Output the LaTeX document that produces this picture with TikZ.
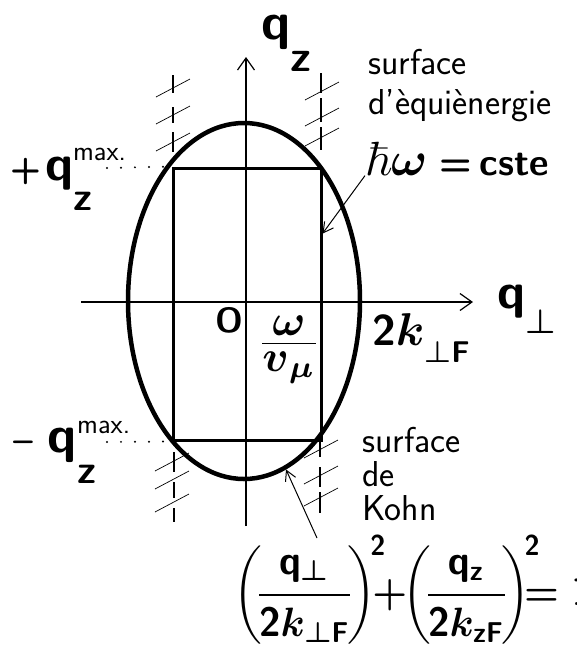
\documentclass[tikz,border=0pt]{standalone}
\usepackage{amsmath,amssymb}
\usepackage{tikz}
\usetikzlibrary{arrows.meta}
\usetikzlibrary{shapes.geometric}

\newcommand{\hmath}[3]{\scalebox{#1}[#2]{\fontsize{10}{12}\selectfont\boldmath$#3$}}

\begin{document}
\begin{tikzpicture}[x=1pt,y=-1pt,
  axis/.style={line width=1.2pt,-{Straight Barb[length=12pt,width=17pt]}},
  note/.style={line width=1pt,-{Straight Barb[length=10pt,width=11pt]}},
  hatch/.style={line width=2.6pt},
  slash/.style={line width=0.7pt},
  guide/.style={line width=2.2pt,line cap=round,dash pattern=on 0pt off 14pt},
  lbl/.style={inner sep=0pt,font=\sffamily\bfseries\fontsize{#1}{#1}\selectfont},
  hand/.style={inner sep=0pt,align=left,font=\sffamily\fontsize{36}{#1}\selectfont}]

\useasboundingbox (0,0) rectangle (577,649);

\node[draw,line width=4.5pt,ellipse,minimum width=232pt,minimum height=356pt] (fermi) at (244,301) {};
\node[draw,line width=3pt,minimum width=148pt,minimum height=272pt] (box) at (247,304) {};

\draw[axis] (81,302) -- (473,302);
\draw[axis] (246,526) -- (246,57);

\foreach \x/\a/\b in {173/75/93,173/107/123,173/132/152,321/73/93,321/98/122,321/127/150,
  174/452/472,174/482/498,174/508/522,320/440/457,320/467/487,320/492/513}
  \draw[hatch] (\x,\a) -- (\x,\b);
\foreach \x/\y in {173/88,173/115,173/142,322/91,322/117,322/137,
  172/462,172/480,172/503,321/449,321/475,321/497}
  \draw[slash] (\x-17,\y+9) -- (\x+17,\y-9);

\node[lbl=52,anchor=base west] (qzlab) at (261,39) {q\raisebox{-32pt}{\fontsize{44}{44}\selectfont z}};
\node[lbl=50,anchor=base west] (qplab) at (497,308) {q\raisebox{-25pt}{\hmath{3.4}{3.4}{\perp}}};
\node[lbl=35] (olab) at (229.5,320) {O};
\node[lbl=42] (wv) at (289,350) {\hmath{4.4}{4.4}{\textstyle\frac{\displaystyle\boldsymbol{\omega}}{\displaystyle\boldsymbol{v}_{\mu}}}};
\node[lbl=43,anchor=base west] (klab) at (372,345) {2\hmath{4.6}{4.6}{k}\raisebox{-17pt}{\hmath{3}{3}{\perp}\fontsize{30}{30}\selectfont F}};

\node[lbl=50,anchor=base west] (qmaxp) at (10,180) {{\fontsize{36}{36}\selectfont +}\hspace{4pt}q\rlap{\raisebox{20pt}{\mdseries\fontsize{28}{28}\selectfont max.}}\raisebox{-30pt}{\fontsize{40}{40}\selectfont z}};
\node[lbl=52,anchor=base west] (qmaxm) at (13,452) {{\fontsize{36}{36}\selectfont\textendash}\hspace{15pt}q\rlap{\raisebox{19pt}{\mdseries\fontsize{28}{28}\selectfont max.}}\raisebox{-31pt}{\fontsize{40}{40}\selectfont z}};
\coordinate (gp) at (107,168);
\coordinate (gm) at (107,442);
\draw[guide] (gp) -- (box.north west);
\draw[guide] (gm) -- (box.south west);

\node[hand=40,anchor=north west] (equi) at (368,49) {surface\\d'èquiènergie};
\node[lbl=38,anchor=base west] (cste) at (365,175) {\hmath{4.8}{4.8}{\hbar\omega}\hspace{12pt}=\hspace{8pt}cste};
\draw[note] (cste.south west) -- (box.43.8);

\node[hand=34,anchor=north west] (kohn) at (362,427) {surface\\de\\Kohn};
\node[lbl=42,anchor=west] (kohneq) at (233,590) {\hmath{3.9}{4.1}{\left(\!\dfrac{\mathsf{q}_{\perp}}{\mathsf{2}k_{\perp\mathsf{F}}}\!\right)^{\!\mathsf{2}}\mkern-10mu+\mkern-6mu\left(\!\dfrac{\mathsf{q}_{\mathsf{z}}}{\mathsf{2}k_{\mathsf{zF}}}\!\right)^{\!\mathsf{2}}\mkern-12mu=\mathsf{1}}};
\coordinate (ktail) at (317,538);
\draw[note] (ktail) -- (fermi.-76.4);

\end{tikzpicture}
\end{document}
